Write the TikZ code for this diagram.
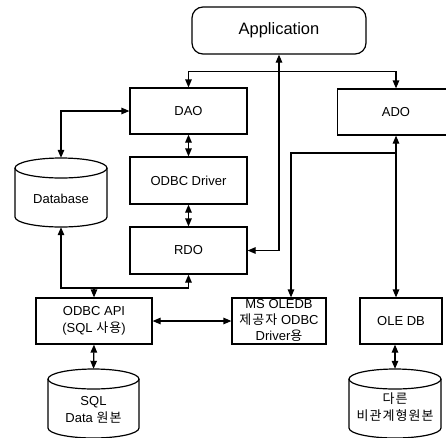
\documentclass[tikz,border=0pt]{standalone}
\usepackage{fontspec}
\setmainfont{Liberation Sans}
\newfontfamily\kr[LetterSpace=8]{Noto Sans CJK KR}
\usetikzlibrary{arrows.meta}
\newcommand\cylout[5]{%
  \draw[line] (#1,{#2+#5}) ellipse [x radius=#4, y radius=#5];
  \draw[line] ({#1-#4},{#2+#5}) -- ({#1-#4},{#3-#5})
     arc[start angle=180, end angle=0, x radius=#4, y radius=#5] -- ({#1+#4},{#2+#5});}
\begin{document}
\begin{tikzpicture}[x=1pt,y=-1pt,
  line/.style={line width=1.2pt},
  conn/.style={line width=1.2pt},
  >={Triangle[length=8pt,width=6.5pt]},
  box/.style={draw,line width=1.2pt,inner sep=0pt,align=center,
     font=\fontsize{13}{17}\selectfont},
  cylbox/.style={inner sep=0pt,minimum width=92pt},
  lbl/.style={align=center,inner sep=0pt,font=\fontsize{13}{17}\selectfont}]
\useasboundingbox (0,0) rectangle (446,437);
\clip (0,0) rectangle (446,437);
% nodes
\node[box,rounded corners=11pt,minimum width=174pt,minimum height=47pt,
      font=\fontsize{16.5}{20}\selectfont] (app) at (279,30.5) {Application};
\node[box,minimum width=117pt,minimum height=46pt] (dao) at (188.5,111) {DAO};
\node[box,minimum width=117pt,minimum height=47pt] (drv) at (188.5,180.5) {ODBC Driver};
\node[box,minimum width=117pt,minimum height=47pt] (rdo) at (188.5,250.5) {RDO};
\node[box,minimum width=117pt,minimum height=46pt] (ado) at (396,112) {ADO};
\node[box,minimum width=116pt,minimum height=46pt] (api) at (94,321) {ODBC API\\({SQL} {\kr 사용})};
\node[box,minimum width=94pt,minimum height=46pt,font=\fontsize{13}{16}\selectfont] (ms) at (279,321) {};
\node[lbl,font=\fontsize{13}{16}\selectfont] (mst) at (279,320) {MS OLEDB\\{\kr 제공자} ODBC\\Driver{\kr 용}};
\node[box,minimum width=82pt,minimum height=46pt] (ole) at (401,321) {OLE DB};
% cylinders
\node[cylbox,minimum height=69pt] (db) at (61,192.5) {};
\cylout{61}{158}{227}{46}{10}
\node[lbl] (dbt) at (61,199) {Database};
\node[cylbox,minimum height=69pt,minimum width=91pt] (sql) at (93.5,403.5) {};
\cylout{93.5}{369}{438}{45.5}{10}
\node[lbl] (sqlt) at (93.5,410) {SQL\\Data {\kr 원본}};
\node[cylbox,minimum height=69pt] (oth) at (395,403.5) {};
\cylout{395}{369}{438}{46}{10}
\node[lbl] (otht) at (395,407) {{\kr 다른}\\{\kr 비관계형원본}};
% connectors
\draw[conn,<->] (dao.north) -- ++(0,-16) -| (ado.north);
\draw[conn,<->] (rdo.east) -| (app.south -| 279,0);
\draw[conn,<->] (dao.west) -| (db.north);
\draw[conn,<->] (dao.south) -- (drv.north);
\draw[conn,<->] (drv.south) -- (rdo.north);
\coordinate (j1) at (94,288);
\draw[conn,<->] (db.south) |- (j1) -| (rdo.south);
\draw[conn,->] (j1) -- (api.north);
\draw[conn,<->] (api.east) -- (ms.west);
\draw[conn,<->] (api.south) -- (sql.north);
\draw[conn,<->] (ado.south) -- (ado.south |- ole.north);
\coordinate (j2) at (396,153);
\draw[conn,->] (j2) -| (ms.north -| 291,0);
\draw[conn,<->] (oth.north |- ole.south) -- (oth.north);
\end{tikzpicture}
\end{document}
